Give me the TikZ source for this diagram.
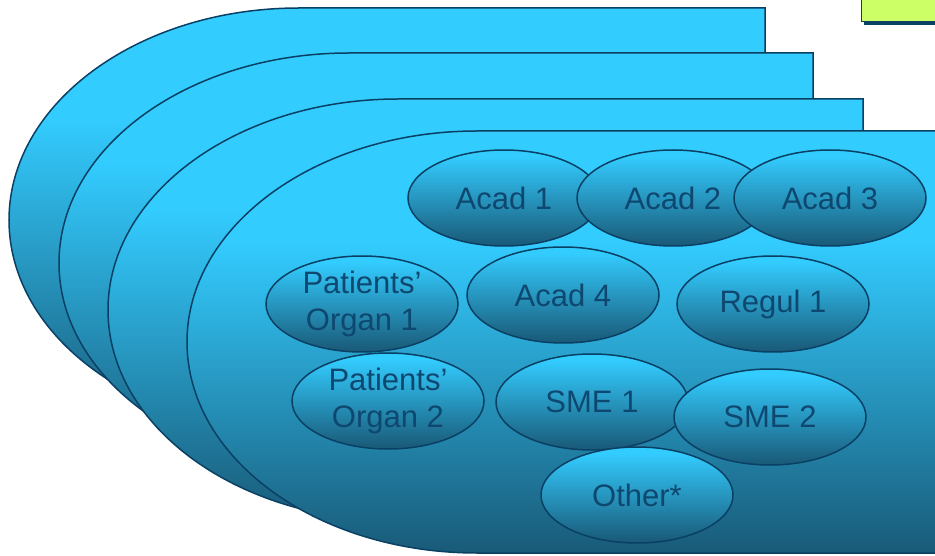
\documentclass[tikz,border=0pt]{standalone}
\usepackage{fontspec}
\setmainfont{Liberation Sans}
\usetikzlibrary{shapes.geometric}

\definecolor{slight}{RGB}{51,204,255}
\definecolor{sdark}{RGB}{25,90,120}
\definecolor{edark}{RGB}{25,88,118}
\definecolor{rim}{RGB}{10,64,100}
\definecolor{labelblue}{RGB}{14,72,112}
\definecolor{tabgreen}{RGB}{204,255,102}

% vertical fills: the middle 25bp..75bp span the shaded path
\pgfdeclareverticalshading{layerfill}{100bp}{color(0bp)=(sdark); color(25bp)=(sdark); color(62bp)=(slight); color(100bp)=(slight)}
\pgfdeclareverticalshading{bubblefill}{100bp}{color(0bp)=(edark); color(25bp)=(edark); color(72bp)=(slight); color(100bp)=(slight)}

\begin{document}
\begin{tikzpicture}[x=1pt,y=1pt,
  layer/.style={draw=rim, line width=1.5pt, shade, shading=layerfill},
  bubble/.style={ellipse, draw=rim, line width=1.5pt, shade, shading=bubblefill,
    minimum width=192pt, minimum height=96pt, inner sep=0pt,
    text=labelblue, font=\fontsize{31}{37}\selectfont, align=center}]
\useasboundingbox (0,0) rectangle (935,555);
\clip (0,0) rectangle (935,555);

% corner tab with its shadow
\fill[rim] (863.5,530) rectangle (945,565);
\filldraw[fill=tabgreen, draw=rim, line width=1.2pt] (861.5,533.5) rectangle (945,565);

% stacked layers, back to front: rounded left side, square right side
\path[layer] (299,547) -- (765,547) -- (765,123) -- (299,123)
  arc[start angle=270, end angle=90, x radius=290, y radius=212] -- cycle;
\path[layer] (349,502) -- (813,502) -- (813,82) -- (349,82)
  arc[start angle=270, end angle=90, x radius=290, y radius=210] -- cycle;
\path[layer] (398,456) -- (863,456) -- (863,34) -- (398,34)
  arc[start angle=270, end angle=90, x radius=290, y radius=211] -- cycle;
\path[layer] (477,424) -- (960,424) -- (960,2) -- (477,2)
  arc[start angle=270, end angle=90, x radius=290, y radius=211] -- cycle;

% stakeholder bubbles
\node[bubble] (acad1) at (504,357) {Acad 1};
\node[bubble] (acad2) at (673,357) {Acad 2};
\node[bubble] (acad3) at (830,357) {Acad 3};
\node[bubble] (acad4) at (563,260) {Acad 4};
\node[bubble] (regul1) at (773,251) {Regul 1};
\node[bubble] (organ1) at (362,251) {Patients’\\Organ 1};
\node[bubble] (organ2) at (388,154) {Patients’\\Organ 2};
\node[bubble] (sme1) at (592,153) {SME 1};
\node[bubble] (sme2) at (770,138) {SME 2};
\node[bubble] (other) at (637,60) {Other*};
\end{tikzpicture}
\end{document}
